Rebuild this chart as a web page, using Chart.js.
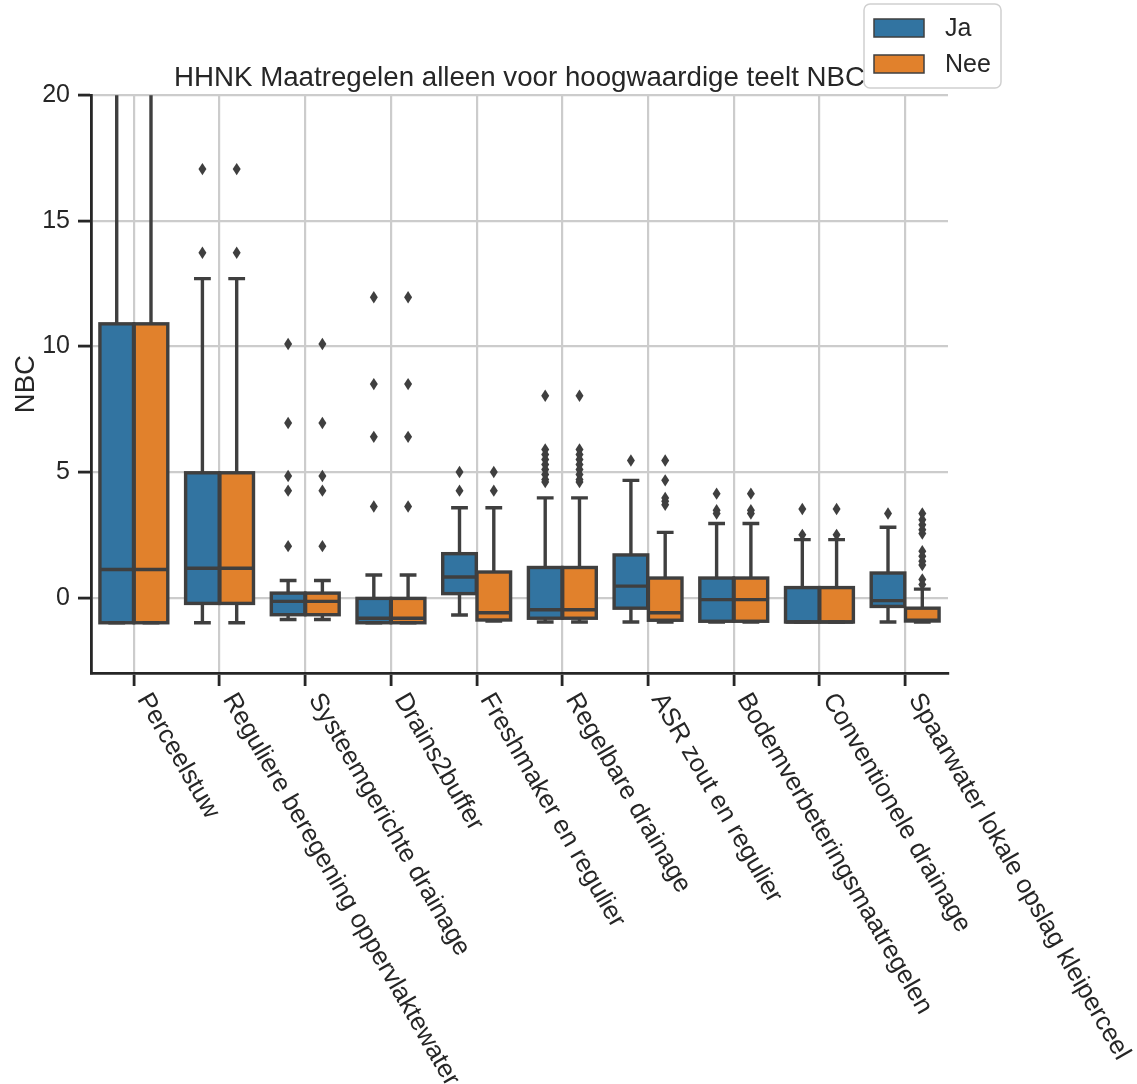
<!DOCTYPE html>
<html>
<head>
<meta charset="utf-8">
<title>HHNK Maatregelen alleen voor hoogwaardige teelt NBC</title>
<script src="https://cdn.jsdelivr.net/npm/chart.js@4.4.1/dist/chart.umd.min.js"></script>
<style>
  html, body { margin: 0; padding: 0; background: #ffffff; }
  #wrap { width: 1137px; height: 1084px; }
</style>
</head>
<body>
<div id="wrap"><canvas id="chart" width="1137" height="1084"></canvas></div>
<script>
// Measures (categories on the x axis)
const categories = [
  "Perceelstuw",
  "Reguliere beregening oppervlaktewater",
  "Systeemgerichte drainage",
  "Drains2buffer",
  "Freshmaker en regulier",
  "Regelbare drainage",
  "ASR zout en regulier",
  "Bodemverbeteringsmaatregelen",
  "Conventionele drainage",
  "Spaarwater lokale opslag kleiperceel"
];

// Hue groups
const groupNames = ["Ja", "Nee"];

// Box statistics for "Ja"
const jaLow    = [-1.00, -1.00, -0.87, -1.00, -0.69, -0.97, -0.97, -0.97, -0.97, -0.97];
const jaQ1     = [-1.00, -0.23, -0.68, -1.00,  0.16, -0.82, -0.42, -0.94, -0.97, -0.35];
const jaMedian = [ 1.12,  1.17, -0.15, -0.82,  0.82, -0.48,  0.46, -0.08, -0.97, -0.12];
const jaQ3     = [10.90,  4.97,  0.18, -0.03,  1.75,  1.20,  1.70,  0.78,  0.40,  0.98];
const jaHigh   = [28.00, 12.70,  0.68,  0.90,  3.58,  3.97,  4.67,  2.95,  2.31,  2.80];
const jaFliers = [
  [],
  [13.73, 17.06],
  [10.10, 6.95, 4.84, 4.26, 2.05],
  [11.96, 8.50, 6.40, 3.63],
  [4.26, 5.00],
  [8.04, 5.90, 5.70, 5.50, 5.30, 5.10, 4.90, 4.70, 4.60],
  [5.46],
  [4.14, 3.48, 3.35],
  [3.53, 2.50],
  [3.35]
];

// Box statistics for "Nee"
const neeLow    = [-1.00, -1.00, -0.87, -1.00, -0.93, -0.97, -0.97, -0.97, -0.97, -0.97];
const neeQ1     = [-1.00, -0.23, -0.68, -1.00, -0.89, -0.82, -0.90, -0.94, -0.97, -0.93];
const neeMedian = [ 1.12,  1.17, -0.15, -0.82, -0.60, -0.48, -0.60, -0.08, -0.97, -0.90];
const neeQ3     = [10.90,  4.97,  0.18, -0.03,  1.02,  1.20,  0.78,  0.78,  0.40, -0.42];
const neeHigh   = [28.00, 12.70,  0.68,  0.90,  3.58,  3.97,  2.60,  2.95,  2.31,  0.34];
const neeFliers = [
  [],
  [13.73, 17.06],
  [10.10, 6.95, 4.84, 4.26, 2.05],
  [11.96, 8.50, 6.40, 3.63],
  [4.26, 5.00],
  [8.04, 5.90, 5.70, 5.50, 5.30, 5.10, 4.90, 4.70, 4.60],
  [5.46, 4.67, 3.97, 3.84, 3.70],
  [4.14, 3.48, 3.35],
  [3.53, 2.50],
  [3.35, 3.10, 2.90, 2.70, 2.55, 1.85, 1.65, 1.45, 1.30, 0.72, 0.52]
];

// Y axis
const yTickValues = [0, 5, 10, 15, 20];
const yMin = -3;
const yMax = 20;

const FONT = "'Liberation Sans', Arial, Helvetica, sans-serif";
const TEXT = "#262626";
const LINE = "#3f3f3f";
const GRID = "#cccccc";
const FILLS = ["#3274a1", "#e1812c"];

const series = [
  { low: jaLow,  q1: jaQ1,  med: jaMedian,  q3: jaQ3,  high: jaHigh,  fliers: jaFliers },
  { low: neeLow, q1: neeQ1, med: neeMedian, q3: neeQ3, high: neeHigh, fliers: neeFliers }
];

Chart.defaults.font.family = FONT;
Chart.defaults.color = TEXT;

// Whiskers, caps, box outlines, medians and fliers on top of the floating bars
const boxDetails = {
  id: "boxDetails",
  afterDatasetsDraw(chart) {
    const ctx = chart.ctx;
    const ys = chart.scales.y;
    const area = chart.chartArea;
    ctx.save();
    ctx.beginPath();
    ctx.rect(area.left, area.top, area.right - area.left, area.bottom - area.top);
    ctx.clip();
    ctx.strokeStyle = LINE;
    ctx.fillStyle = LINE;
    ctx.lineWidth = 3.4;
    const seg = (x1, y1, x2, y2) => {
      ctx.beginPath(); ctx.moveTo(x1, y1); ctx.lineTo(x2, y2); ctx.stroke();
    };
    series.forEach((s, d) => {
      chart.getDatasetMeta(d).data.forEach((bar, i) => {
        const x = bar.x, w = bar.width, half = w / 2, cap = w / 4;
        const pLow = ys.getPixelForValue(s.low[i]);
        const pQ1 = ys.getPixelForValue(s.q1[i]);
        const pMed = ys.getPixelForValue(s.med[i]);
        const pQ3 = ys.getPixelForValue(s.q3[i]);
        const pHigh = ys.getPixelForValue(s.high[i]);
        // whiskers and caps
        ctx.lineCap = "butt";
        seg(x, pQ3, x, pHigh);
        seg(x - cap, pHigh, x + cap, pHigh);
        seg(x, pQ1, x, pLow);
        seg(x - cap, pLow, x + cap, pLow);
        // box outline
        ctx.lineJoin = "miter";
        ctx.strokeRect(x - half, pQ3, w, pQ1 - pQ3);
        // median
        seg(x - half, pMed, x + half, pMed);
        // fliers as thin diamonds
        s.fliers[i].forEach(v => {
          const py = ys.getPixelForValue(v);
          ctx.beginPath();
          ctx.moveTo(x, py - 6.2);
          ctx.lineTo(x + 4, py);
          ctx.lineTo(x, py + 6.2);
          ctx.lineTo(x - 4, py);
          ctx.closePath();
          ctx.fill();
        });
      });
    });
    ctx.restore();
  }
};

// Slanted category labels under the x axis
const slantedLabels = {
  id: "slantedLabels",
  afterDraw(chart) {
    const ctx = chart.ctx;
    const xs = chart.scales.x;
    const base = chart.chartArea.bottom;
    ctx.save();
    ctx.font = "25.7px " + FONT;
    ctx.fillStyle = TEXT;
    ctx.textAlign = "left";
    ctx.textBaseline = "alphabetic";
    categories.forEach((label, i) => {
      const x = xs.getPixelForTick(i);
      ctx.save();
      ctx.translate(x + 3, base + 26);
      ctx.rotate(Math.PI / 3);
      ctx.fillText(label, 0, 0);
      ctx.restore();
    });
    ctx.restore();
  }
};

// Legend box in the upper right corner
const hueLegend = {
  id: "hueLegend",
  afterDraw(chart) {
    const ctx = chart.ctx;
    const bx = 864, by = 4, bw = 137, bh = 84;
    ctx.save();
    ctx.beginPath();
    ctx.roundRect(bx, by, bw, bh, 6);
    ctx.fillStyle = "rgba(255,255,255,0.85)";
    ctx.fill();
    ctx.lineWidth = 1.5;
    ctx.strokeStyle = "#d0d0d0";
    ctx.stroke();
    ctx.font = "25px " + FONT;
    ctx.textAlign = "left";
    ctx.textBaseline = "middle";
    groupNames.forEach((name, k) => {
      const cy = by + 24 + k * 36;
      ctx.fillStyle = FILLS[k];
      ctx.fillRect(874, cy - 9, 50, 18);
      ctx.lineWidth = 1.5;
      ctx.strokeStyle = LINE;
      ctx.strokeRect(874, cy - 9, 50, 18);
      ctx.fillStyle = TEXT;
      ctx.fillText(name, 945, cy + 1);
    });
    ctx.restore();
  }
};

const datasets = series.map((s, d) => ({
  label: groupNames[d],
  data: categories.map((_, i) => [s.q1[i], s.q3[i]]),
  backgroundColor: FILLS[d],
  borderWidth: 0,
  categoryPercentage: 0.8,
  barPercentage: 0.98
}));

new Chart(document.getElementById("chart"), {
  type: "bar",
  data: { labels: categories, datasets },
  plugins: [boxDetails, slantedLabels, hueLegend],
  options: {
    responsive: false,
    devicePixelRatio: 1,
    animation: false,
    layout: { padding: { left: 0, right: 189, top: 0, bottom: 0 } },
    plugins: {
      legend: { display: false },
      tooltip: { enabled: false },
      title: {
        display: true,
        text: "HHNK Maatregelen alleen voor hoogwaardige teelt NBC",
        fullSize: false,
        align: "center",
        color: TEXT,
        font: { size: 27.7, weight: "normal", family: FONT, lineHeight: 1.2 },
        padding: { top: 62, bottom: 0 }
      }
    },
    scales: {
      x: {
        offset: true,
        grid: {
          offset: false,
          color: GRID,
          lineWidth: 2.2,
          drawTicks: true,
          tickLength: 13,
          tickColor: TEXT,
          tickWidth: 2.8
        },
        border: { display: true, color: TEXT, width: 2.8 },
        ticks: { autoSkip: false, maxRotation: 0, minRotation: 0, callback: () => "" },
        afterFit(scale) { scale.height = 411; }
      },
      y: {
        min: yMin,
        max: yMax,
        grid: {
          color: GRID,
          lineWidth: 2.2,
          drawTicks: true,
          tickLength: 13,
          tickColor: TEXT,
          tickWidth: 2.8
        },
        border: { display: true, color: TEXT, width: 2.8 },
        ticks: {
          color: TEXT,
          font: { size: 25, family: FONT },
          padding: 8
        },
        afterBuildTicks(scale) {
          scale.ticks = yTickValues.map(v => ({ value: v }));
        },
        title: {
          display: true,
          text: "NBC",
          color: TEXT,
          font: { size: 27.5, family: FONT, lineHeight: 1.2 },
          padding: { top: 10, bottom: 0 }
        },
        afterFit(scale) { scale.width = 91; }
      }
    }
  }
});
</script>
</body>
</html>
